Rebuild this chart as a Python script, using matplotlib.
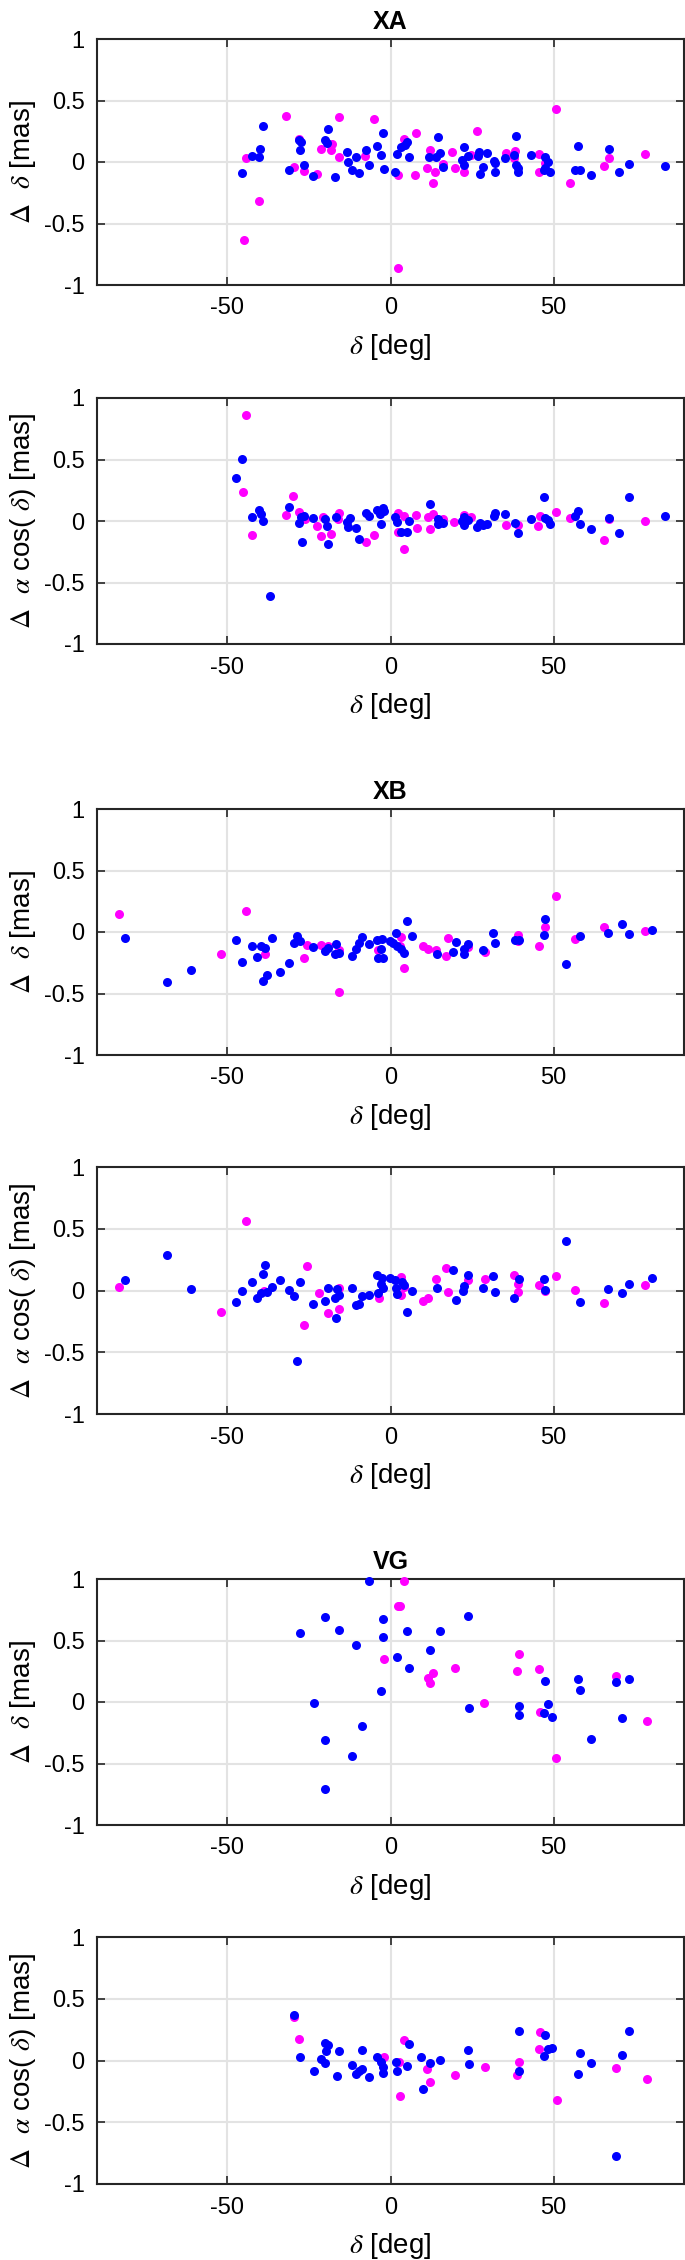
import matplotlib
matplotlib.use("Agg")
import matplotlib.pyplot as plt

plt.rcParams['font.family'] = ['Liberation Sans', 'DejaVu Sans']
plt.rcParams['mathtext.fontset'] = 'stix'

# === DATA (declination [deg], offset [mas]) ===
# XA, delta offsets
xa_dd_mag_dec = [-32.1, -15.9, -5.2, 50.6, 26.4, 7.9, 4.0, -28.0, -21.3, -18.1, -17.8, -15.9, -7.9, -44.3,
                 -29.7, -26.4, -22.5, -40.2, -44.8, 2.4, 2.4, 7.6, 12.0, 11.1, 13.1, 13.7, 16.2, 19.0, 19.8,
                 22.5, 24.8, 35.5, 38.2, 37.9, 45.5, 45.5, 55.0, 65.6, 66.9, 78.0, 47.5]
xa_dd_mag_val = [0.377, 0.363, 0.35, 0.428, 0.252, 0.238, 0.19, 0.19, 0.105, 0.10, 0.15, 0.04, 0.05, 0.03,
                 -0.04, -0.07, -0.10, -0.32, -0.634, -0.864, -0.105, -0.105, 0.098, -0.045, -0.168, -0.08,
                 -0.02, 0.078, -0.05, -0.08, 0.06, 0.07, 0.09, 0.03, 0.065, -0.08, -0.173, -0.033, 0.033,
                 0.065, -0.01]
xa_dd_blu_dec = [-45.5, -42.4, -40.4, -39.9, -39.0, -31.1, -28.0, -27.4, -27.7, -26.4, -23.7, -20.2, -19.4,
                 -19.1, -16.9, -13.4, -13.1, -11.9, -10.6, -9.8, -7.6, -6.7, -4.1, -2.9, -2.3, -2.0, 1.5,
                 2.1, 3.3, 4.4, 5.0, 5.6, 11.9, 14.1, 14.5, 15.1, 16.2, 22.4, 21.8, 22.4, 23.8, 26.8, 27.2,
                 27.4, 28.5, 29.5, 31.6, 32.1, 32.1, 35.1, 38.0, 38.6, 38.6, 39.0, 39.2, 43.2, 47.3, 47.5,
                 48.2, 48.9, 47.1, 56.6, 57.6, 58.2, 61.6, 66.9, 70.0, 73.2, 84.1]
xa_dd_blu_val = [-0.092, 0.05, 0.04, 0.108, 0.295, -0.065, 0.18, 0.16, 0.095, -0.025, -0.11, 0.18, 0.157,
                 0.27, -0.12, 0.085, 0.0, -0.065, 0.04, -0.092, 0.098, -0.025, 0.13, 0.054, 0.233, -0.057,
                 -0.08, 0.062, 0.125, 0.138, 0.16, 0.043, 0.043, 0.043, 0.2, 0.075, -0.038, 0.125, 0.016,
                 -0.025, 0.05, 0.05, 0.085, -0.098, -0.038, 0.075, 0.01, -0.01, -0.08, 0.03, 0.057, 0.21,
                 -0.025, -0.08, -0.05, 0.06, 0.043, -0.05, 0.0, -0.08, -0.065, -0.065, 0.133, -0.065,
                 -0.105, 0.105, -0.084, -0.016, -0.03]

# XA, alpha cos(delta) offsets
xa_da_mag_dec = [-44.3, -45.1, -42.6, -32.1, -29.9, -28.2, -26.1, -22.5, -21.4, -20.7, -18.1, -16.1, -15.7,
                 -7.6, -5.2, 2.4, 2.4, 4.1, 4.1, 8.0, 7.8, 11.4, 12.0, 13.1, 16.2, 19.4, 22.5, 24.8, 35.5,
                 39.0, 45.2, 45.9, 50.6, 54.9, 65.6, 66.9, 78.0]
xa_da_mag_val = [0.858, 0.238, -0.116, 0.046, 0.203, 0.073, 0.014, -0.038, -0.124, 0.032, -0.103, 0.019,
                 0.068, -0.173, -0.116, -0.092, 0.065, -0.23, 0.043, -0.054, 0.046, 0.032, -0.065, 0.054,
                 0.019, -0.008, 0.046, 0.032, -0.03, -0.035, -0.043, 0.038, 0.076, 0.022, -0.152, 0.014,
                 -0.003]
xa_da_blu_dec = [-47.5, -45.5, -42.4, -40.3, -39.8, -39.0, -36.9, -31.1, -28.0, -27.4, -27.2, -26.4, -23.7,
                 -20.2, -19.4, -19.1, -16.7, -13.4, -13.1, -12.3, -10.6, -9.8, -7.6, -6.7, -4.1, -3.3,
                 -2.9, -2.3, -2.0, 1.5, 2.1, 3.3, 5.0, 5.6, 12.2, 14.5, 14.5, 16.2, 21.8, 22.4, 22.4, 23.8,
                 26.5, 27.4, 28.5, 29.5, 31.6, 32.1, 35.1, 38.2, 39.0, 43.2, 47.1, 47.5, 48.2, 48.9, 56.6,
                 57.6, 58.2, 61.6, 66.9, 70.0, 73.2, 84.1]
xa_da_blu_val = [0.346, 0.503, 0.03, 0.092, 0.057, 0.0, -0.606, 0.111, -0.016, 0.032, -0.173, 0.041, 0.027,
                 0.014, -0.038, -0.19, 0.032, -0.008, -0.049, 0.024, -0.06, -0.149, 0.068, 0.038, 0.087,
                 0.054, -0.024, 0.106, 0.081, 0.032, -0.011, -0.092, -0.092, 0.0, 0.135, 0.016, -0.024,
                 -0.016, 0.0, 0.032, -0.03, 0.005, -0.049, -0.016, -0.03, -0.024, 0.038, 0.068, 0.06,
                 -0.016, -0.095, 0.016, 0.195, 0.027, 0.005, -0.024, 0.038, 0.081, -0.024, -0.065, 0.024,
                 -0.097, 0.195, 0.041]

# XB, delta offsets
xb_dd_mag_dec = [-83.4, -52.1, -44.3, -38.4, -26.4, -25.7, -21.4, -19.1, -15.9, -15.7, -3.9, 3.1, 2.8, 4.1,
                 10.0, 11.4, 14.1, 17.0, 17.5, 23.8, 29.0, 39.0, 39.0, 45.5, 47.3, 50.6, 56.6, 65.6, 78.0]
xb_dd_mag_val = [0.146, -0.176, 0.173, -0.176, -0.214, -0.103, -0.103, -0.117, -0.49, -0.144, -0.144,
                 -0.041, -0.117, -0.295, -0.117, -0.138, -0.144, -0.198, -0.049, -0.125, -0.16, -0.027,
                 -0.076, -0.117, 0.041, 0.295, -0.054, 0.041, 0.011]
xb_dd_blu_dec = [-81.3, -68.5, -61.2, -47.5, -45.5, -42.4, -40.8, -39.8, -39.0, -38.4, -37.8, -36.3, -33.9,
                 -31.1, -29.5, -28.8, -27.7, -23.7, -20.2, -19.1, -16.9, -16.7, -15.9, -11.9, -10.6, -9.8,
                 -8.8, -6.6, -4.1, -3.9, -2.8, -2.5, -2.3, -0.3, 0.7, 1.6, 2.0, 3.3, 4.1, 5.0, 6.7, 14.3,
                 19.1, 20.2, 22.4, 22.5, 23.8, 28.5, 31.5, 32.0, 38.2, 39.5, 47.1, 47.5, 53.9, 58.2, 66.8,
                 71.0, 73.2, 80.3]
xb_dd_blu_val = [-0.049, -0.407, -0.312, -0.062, -0.247, -0.117, -0.203, -0.117, -0.396, -0.133, -0.35,
                 -0.049, -0.328, -0.252, -0.089, -0.035, -0.07, -0.122, -0.152, -0.133, -0.176, -0.1,
                 -0.171, -0.198, -0.138, -0.089, -0.041, -0.095, -0.068, -0.214, -0.138, -0.057, -0.209,
                 -0.07, -0.089, -0.005, -0.117, -0.138, -0.171, 0.092, -0.035, -0.176, -0.163, -0.084,
                 -0.138, -0.182, -0.095, -0.144, -0.005, -0.089, -0.068, -0.068, -0.027, 0.106, -0.257,
                 -0.035, -0.008, 0.065, -0.016, 0.019]

# XB, alpha cos(delta) offsets
xb_da_mag_dec = [-83.4, -52.1, -44.3, -38.7, -26.4, -25.7, -22.0, -19.1, -15.9, -15.7, -3.6, 3.1, 3.1, 4.1,
                 10.0, 11.4, 14.1, 17.0, 17.5, 23.8, 29.0, 37.9, 39.0, 39.0, 45.5, 47.3, 50.6, 56.6, 65.6,
                 78.0]
xb_da_mag_val = [0.027, -0.178, 0.559, 0.0, -0.276, 0.195, -0.022, -0.184, 0.019, -0.151, -0.057, 0.108,
                 -0.035, 0.032, -0.081, -0.057, 0.092, 0.181, -0.011, 0.086, 0.092, 0.122, -0.016, 0.054,
                 0.041, 0.0, 0.119, 0.005, -0.105, 0.043]
xb_da_blu_dec = [-81.3, -68.5, -61.2, -47.5, -45.5, -42.4, -40.8, -39.8, -39.0, -38.4, -37.8, -36.3, -33.9,
                 -31.1, -29.5, -28.8, -27.7, -23.7, -20.2, -19.1, -16.9, -16.7, -16.3, -15.9, -11.9, -10.6,
                 -9.8, -8.8, -6.6, -4.1, -3.9, -2.8, -2.5, -2.3, -0.3, 1.3, 1.6, 2.0, 3.6, 4.1, 5.0, 6.7,
                 14.3, 19.1, 20.2, 22.1, 22.5, 23.8, 28.5, 31.5, 32.0, 37.9, 39.5, 47.1, 47.5, 53.9, 58.2,
                 66.8, 71.0, 73.2, 80.3]
xb_da_blu_val = [0.086, 0.289, 0.011, -0.095, -0.008, 0.065, -0.062, -0.022, 0.135, 0.205, -0.016, 0.032,
                 0.086, 0.005, -0.043, -0.568, 0.068, -0.108, -0.084, 0.024, -0.057, -0.222, 0.014, -0.035,
                 0.019, -0.116, -0.108, -0.043, -0.035, 0.122, -0.022, 0.051, 0.103, 0.019, 0.1, 0.086,
                 0.024, -0.027, 0.065, 0.046, -0.178, -0.008, 0.019, 0.168, -0.076, -0.008, 0.038, 0.122,
                 0.019, 0.114, -0.014, -0.062, 0.092, 0.092, 0.005, 0.403, -0.097, 0.011, -0.022, 0.054,
                 0.103]

# VG, delta offsets
vg_dd_mag_dec = [4.1, 2.3, 2.8, -2.0, 11.4, 12.2, 13.1, 19.9, 28.8, 38.7, 39.5, 45.5, 45.9, 50.9, 69.3, 78.8]
vg_dd_mag_val = [0.981, 0.778, 0.778, 0.35, 0.192, 0.154, 0.233, 0.276, -0.008, 0.249, 0.388, 0.268,
                 -0.084, -0.455, 0.209, -0.157]
vg_dd_blu_dec = [-6.6, -27.7, -23.6, -20.2, -20.2, -20.2, -15.9, -11.9, -10.6, -8.8, -2.8, -2.3, -2.3, 2.0,
                 5.0, 5.6, 12.2, 15.1, 23.7, 24.0, 39.5, 39.5, 47.1, 47.5, 48.2, 49.5, 57.6, 58.2, 61.6,
                 69.3, 70.9, 73.2]
vg_dd_blu_val = [0.981, 0.558, -0.011, 0.691, -0.306, -0.71, 0.588, -0.436, 0.466, -0.198, 0.089, 0.675,
                 0.528, 0.366, 0.577, 0.279, 0.425, 0.58, 0.702, -0.049, -0.033, -0.103, -0.089, 0.168,
                 -0.014, -0.119, 0.19, 0.1, -0.304, 0.165, -0.13, 0.184]

# VG, alpha cos(delta) offsets
vg_da_mag_dec = [-29.7, -28.2, -2.0, 2.7, 2.8, 4.1, 11.1, 12.2, 19.9, 29.0, 38.7, 39.5, 45.8, 45.5, 51.0,
                 69.3, 78.8]
vg_da_mag_val = [0.351, 0.176, 0.027, -0.016, -0.286, 0.162, -0.07, -0.176, -0.119, -0.049, -0.116, -0.011,
                 0.227, 0.095, -0.319, -0.057, -0.151]
vg_da_blu_dec = [-29.5, -27.7, -23.6, -21.3, -20.2, -20.2, -19.9, -19.1, -16.5, -15.9, -11.9, -10.6, -9.8,
                 -8.8, -8.8, -6.6, -4.1, -2.8, -2.3, -2.3, 1.6, 2.0, 5.0, 5.6, 9.4, 10.0, 12.2, 15.1, 23.7,
                 24.0, 39.5, 39.5, 47.1, 47.5, 48.2, 49.5, 57.6, 58.2, 61.6, 69.3, 70.9, 73.2]
vg_da_blu_val = [0.37, 0.027, -0.081, 0.011, 0.138, -0.024, 0.076, 0.124, -0.124, 0.073, -0.038, -0.111,
                 -0.081, 0.089, -0.065, -0.13, 0.032, -0.016, -0.103, -0.054, -0.014, -0.089, -0.043,
                 0.135, 0.03, -0.232, -0.019, 0.005, 0.081, -0.027, 0.241, -0.084, 0.038, 0.203, 0.097,
                 0.1, -0.111, 0.057, -0.022, -0.773, 0.046, 0.235]

titles = ['XA', None, 'XB', None, 'VG', None]
ylabels = [r'$\Delta$  $\delta$ [mas]', r'$\Delta$  $\alpha$ cos( $\delta$) [mas]'] * 3
xticks = [-50, 0, 50]
xticklabels = ['-50', '0', '50']
yticks = [-1, -0.5, 0, 0.5, 1]
yticklabels = ['-1', '-0.5', '0', '0.5', '1']

panels = [
    (xa_dd_mag_dec, xa_dd_mag_val, xa_dd_blu_dec, xa_dd_blu_val),
    (xa_da_mag_dec, xa_da_mag_val, xa_da_blu_dec, xa_da_blu_val),
    (xb_dd_mag_dec, xb_dd_mag_val, xb_dd_blu_dec, xb_dd_blu_val),
    (xb_da_mag_dec, xb_da_mag_val, xb_da_blu_dec, xb_da_blu_val),
    (vg_dd_mag_dec, vg_dd_mag_val, vg_dd_blu_dec, vg_dd_blu_val),
    (vg_da_mag_dec, vg_da_mag_val, vg_da_blu_dec, vg_da_blu_val),
]

# === LAYOUT (pixel rows of axes tops/bottoms) ===
W, H = 685, 2260
ax_left, ax_right = 97, 684
rows = [(39, 285), (398, 644), (809, 1055), (1167, 1414), (1579, 1825), (1937, 2184)]

fig = plt.figure(figsize=(W / 100, H / 100), dpi=100)

for i, (md, mv, bd, bv) in enumerate(panels):
    top, bot = rows[i]
    ax = fig.add_axes([ax_left / W, 1 - bot / H, (ax_right - ax_left) / W, (bot - top) / H])
    ax.plot(md, mv, 'o', color='#ff00ff', markersize=6.5, markeredgewidth=0, zorder=3, clip_on=False)
    ax.plot(bd, bv, 'o', color='#0000ff', markersize=6.5, markeredgewidth=0, zorder=4, clip_on=False)
    ax.set_xlim(-90, 90)
    ax.set_ylim(-1, 1)
    ax.set_xticks(xticks)
    ax.set_xticklabels(xticklabels)
    ax.set_yticks(yticks)
    ax.set_yticklabels(yticklabels)
    ax.grid(True, color='#e3e3e3', linewidth=1.5, zorder=0)
    ax.set_axisbelow(True)
    ax.tick_params(direction='in', length=6, width=1.2, top=True, right=True,
                   labelsize=17, colors='#262626', labelcolor='black', pad=9)
    for sp in ax.spines.values():
        sp.set_linewidth(1.5)
        sp.set_color('#262626')
    ax.set_xlabel(r'$\delta$ [deg]', fontsize=20, labelpad=9)
    ax.set_ylabel(ylabels[i], fontsize=20, labelpad=4)
    if titles[i]:
        ax.set_title(titles[i], fontsize=18, fontweight='bold', pad=7)

fig.savefig('out.png', dpi=100)
